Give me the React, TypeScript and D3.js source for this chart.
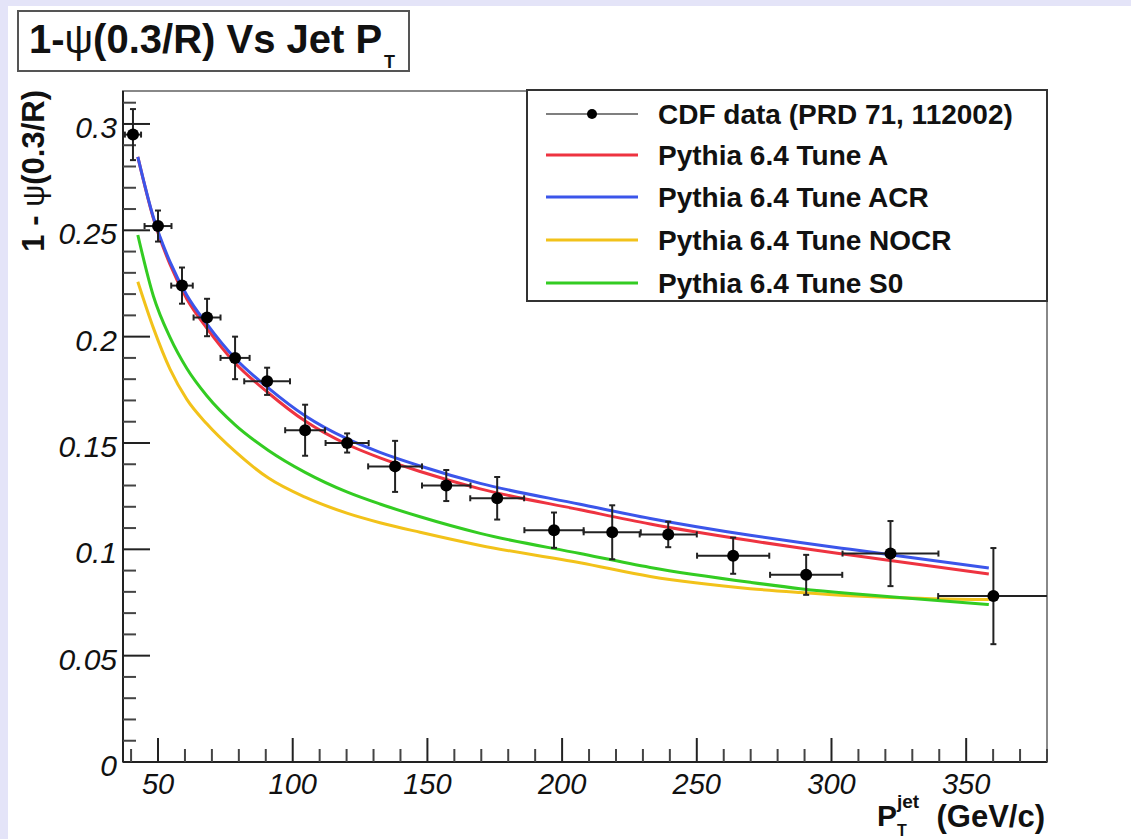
import React from "react";
import * as d3 from "d3";

// CDF data points (PRD 71, 112002)
const cdfPt = [40.7, 50.0, 58.9, 68.2, 78.6, 90.5, 104.6, 120.2, 138.0, 157.0, 175.9, 197.0, 218.6, 239.4, 263.5, 290.6, 321.9, 360.1];
const cdfVal = [0.295, 0.252, 0.224, 0.209, 0.19, 0.179, 0.156, 0.15, 0.139, 0.13, 0.124, 0.109, 0.108, 0.107, 0.097, 0.088, 0.098, 0.078];
const cdfErrY = [0.012, 0.0073, 0.0085, 0.0088, 0.01, 0.0064, 0.012, 0.0045, 0.012, 0.0073, 0.01, 0.0083, 0.0127, 0.006, 0.0085, 0.0094, 0.0153, 0.0226];
const cdfErrX = [3, 5, 4, 5, 5.4, 8.5, 7.4, 8, 10, 9, 10, 11, 10.6, 10.6, 13.4, 13.4, 17.8, 20.5];

// Pythia curves, sampled on a common pT grid
const curvePt = [42.5, 48.3, 54.5, 60.7, 68.1, 78.6, 91, 104.6, 120.1, 132.4, 147.3, 169.6, 206.7, 232.7, 269.8, 288.4, 307, 321.8, 358.4];
const tuneA = [0.2845, 0.2555, 0.2338, 0.2177, 0.204, 0.1876, 0.1735, 0.1603, 0.1494, 0.143, 0.1366, 0.1284, 0.1186, 0.1119, 0.1041, 0.1006, 0.0973, 0.0947, 0.0884];
const tuneACR = [0.2845, 0.256, 0.235, 0.2195, 0.206, 0.1898, 0.1758, 0.1628, 0.152, 0.1456, 0.1392, 0.131, 0.1212, 0.1145, 0.1066, 0.1032, 0.1, 0.0975, 0.0912];
const tuneNOCR = [0.2258, 0.204, 0.1846, 0.1705, 0.159, 0.146, 0.1335, 0.1245, 0.117, 0.1125, 0.108, 0.1018, 0.0937, 0.0872, 0.0815, 0.0797, 0.0782, 0.0774, 0.0764];
const tuneS0 = [0.2478, 0.219, 0.1995, 0.185, 0.1722, 0.1585, 0.1465, 0.1362, 0.127, 0.1213, 0.1153, 0.1075, 0.098, 0.0915, 0.0845, 0.0815, 0.0792, 0.0777, 0.074];

const xTickVals = [50, 100, 150, 200, 250, 300, 350];
const xTickLabels = ["50", "100", "150", "200", "250", "300", "350"];
const yTickVals = [0, 0.05, 0.1, 0.15, 0.2, 0.25, 0.3];
const yTickLabels = ["0", "0.05", "0.1", "0.15", "0.2", "0.25", "0.3"];

const legendLabels = [
  "CDF data (PRD 71, 112002)",
  "Pythia 6.4 Tune A",
  "Pythia 6.4 Tune ACR",
  "Pythia 6.4 Tune NOCR",
  "Pythia 6.4 Tune S0",
];

const W = 1131;
const H = 839;
const frame = { left: 123, right: 1047, top: 91, bottom: 762 };
const font = "'Liberation Sans', Arial, Helvetica, sans-serif";

const series = [
  { vals: tuneA, color: "#ee3340" },
  { vals: tuneACR, color: "#3b55ea" },
  { vals: tuneNOCR, color: "#f2c21a" },
  { vals: tuneS0, color: "#33cc22" },
];
const legendColors = ["#555", "#ee3340", "#3b55ea", "#f2c21a", "#33cc22"];

export default function App() {
  const x = d3.scaleLinear().domain([37, 380]).range([frame.left, frame.right]);
  const y = d3.scaleLinear().domain([0, 0.3155]).range([frame.bottom, frame.top]);

  const line = d3
    .line<number>()
    .x((_, i) => x(curvePt[i]))
    .y((d) => y(d))
    .curve(d3.curveMonotoneX);

  const xMinor = d3.range(40, 381, 10).filter((v) => v % 50 !== 0);
  const yMinor = d3.range(1, 32).filter((k) => k % 5 !== 0).map((k) => k / 100);

  const legendRows = [114, 155, 197, 240, 283];

  return (
    <svg width={W} height={H} style={{ position: "absolute", left: 0, top: 0 }} fontFamily={font}>
      <defs>
        <clipPath id="plotclip">
          <rect x={frame.left} y={frame.top} width={frame.right - frame.left} height={frame.bottom - frame.top} />
        </clipPath>
      </defs>
      <rect x={0} y={0} width={W} height={H} fill="#e4e4f8" />
      <rect x={8} y={6} width={W - 8} height={H - 6} fill="#fff" />

      {/* title box */}
      <rect x={18} y={11} width={391} height={60} fill="#fff" stroke="#555" strokeWidth={2} />
      <text x={29} y={53} fontSize={40} fontWeight="bold" fill="#111">
        1-<tspan fontWeight="normal">ψ</tspan>(0.3/R) Vs Jet P
        <tspan fontSize={18} dx={2} dy={15}>T</tspan>
      </text>

      {/* frame */}
      <rect
        x={frame.left}
        y={frame.top}
        width={frame.right - frame.left}
        height={frame.bottom - frame.top}
        fill="none"
        stroke="#888"
        strokeWidth={2}
      />
      <line x1={frame.left} x2={frame.left} y1={frame.top} y2={frame.bottom} stroke="#222" strokeWidth={2} />
      <line x1={frame.left} x2={frame.right} y1={frame.bottom} y2={frame.bottom} stroke="#222" strokeWidth={2} />

      {/* y ticks */}
      {yTickVals.map((v, i) => (
        <g key={"yt" + i}>
          <line x1={frame.left} x2={frame.left + 27} y1={y(v)} y2={y(v)} stroke="#222" strokeWidth={2} />
          <text x={117} y={y(v) + 14} textAnchor="end" fontSize={30} fontStyle="italic" fill="#111">
            {yTickLabels[i]}
          </text>
        </g>
      ))}
      {yMinor.map((v, i) => (
        <line key={"ym" + i} x1={frame.left} x2={frame.left + 13} y1={y(v)} y2={y(v)} stroke="#444" strokeWidth={2} />
      ))}

      {/* x ticks */}
      {xTickVals.map((v, i) => (
        <g key={"xt" + i}>
          <line x1={x(v)} x2={x(v)} y1={frame.bottom} y2={frame.bottom - 24} stroke="#222" strokeWidth={2} />
          <text x={x(v)} y={794} textAnchor="middle" fontSize={29} fontStyle="italic" fill="#111">
            {xTickLabels[i]}
          </text>
        </g>
      ))}
      {xMinor.map((v, i) => (
        <line key={"xm" + i} x1={x(v)} x2={x(v)} y1={frame.bottom} y2={frame.bottom - 13} stroke="#444" strokeWidth={2} />
      ))}

      {/* axis titles */}
      <text transform="translate(44,90) rotate(-90)" textAnchor="end" fontSize={31} fontWeight="bold" fill="#111">
        1 - <tspan fontWeight="normal">ψ</tspan>(0.3/R)
      </text>
      <text x={1045} y={827} textAnchor="end" fontSize={31} fontWeight="bold" fill="#111">
        (GeV/c)
      </text>
      <text x={877} y={826} fontSize={30} fontWeight="bold" fill="#111">P</text>
      <text x={897} y={808} fontSize={19} fontWeight="bold" fill="#111">jet</text>
      <text x={897} y={836} fontSize={16} fontWeight="bold" fill="#111">T</text>

      <g clipPath="url(#plotclip)">
        {/* Pythia curves */}
        {series.map((s, i) => (
          <path key={"c" + i} d={line(s.vals) || ""} fill="none" stroke={s.color} strokeWidth={3} />
        ))}

        {/* CDF data */}
        {cdfPt.map((px, i) => {
          const cx = x(px);
          const cy = y(cdfVal[i]);
          const x0 = x(px - cdfErrX[i]);
          const x1 = x(px + cdfErrX[i]);
          const y0 = y(cdfVal[i] - cdfErrY[i]);
          const y1 = y(cdfVal[i] + cdfErrY[i]);
          return (
            <g key={"p" + i} stroke="#222" strokeWidth={2}>
              <line x1={x0} x2={x1} y1={cy} y2={cy} />
              <line x1={cx} x2={cx} y1={y0} y2={y1} />
              <line x1={x0} x2={x0} y1={cy - 3} y2={cy + 3} />
              <line x1={x1} x2={x1} y1={cy - 3} y2={cy + 3} />
              <line x1={cx - 3} x2={cx + 3} y1={y0} y2={y0} />
              <line x1={cx - 3} x2={cx + 3} y1={y1} y2={y1} />
              <circle cx={cx} cy={cy} r={6} fill="#000" stroke="none" />
            </g>
          );
        })}
      </g>

      {/* legend */}
      <rect x={527} y={90} width={520} height={211} fill="#fff" stroke="#333" strokeWidth={2} />
      {legendLabels.map((lab, i) => (
        <g key={"l" + i}>
          <line
            x1={546}
            x2={638}
            y1={legendRows[i]}
            y2={legendRows[i]}
            stroke={legendColors[i]}
            strokeWidth={i === 0 ? 1.5 : 3}
          />
          {i === 0 && <circle cx={592} cy={legendRows[i]} r={5} fill="#000" />}
          <text x={658} y={legendRows[i] + 10} fontSize={28} fontWeight="bold" fill="#111">
            {lab}
          </text>
        </g>
      ))}
    </svg>
  );
}
